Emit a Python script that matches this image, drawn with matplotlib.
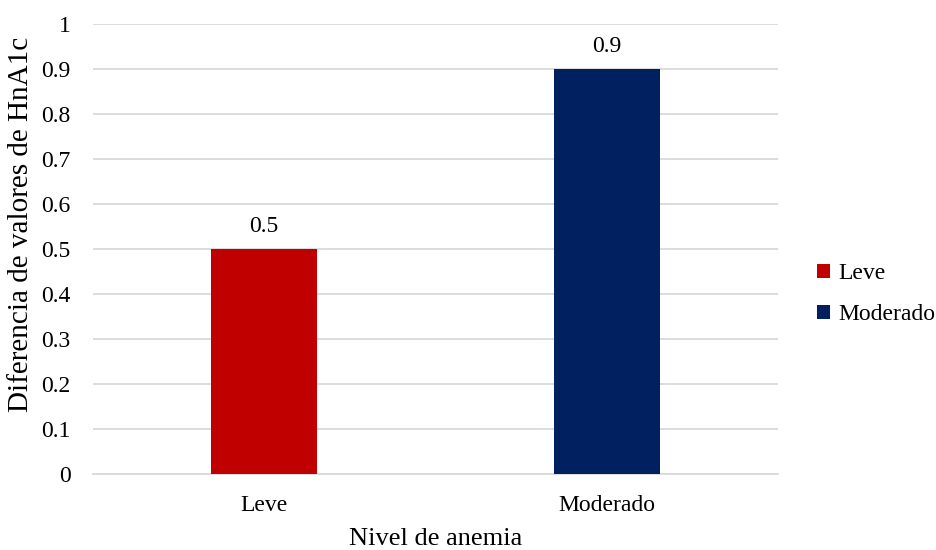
import numpy as np
import matplotlib.pyplot as plt

plt.rcParams['font.family'] = ['Liberation Serif', 'DejaVu Serif']

categories = ['Leve', 'Moderado']
values = [0.5, 0.9]
colors = ['#C00000', '#002060']
yticks = [0, 0.1, 0.2, 0.3, 0.4, 0.5, 0.6, 0.7, 0.8, 0.9, 1]
ytick_labels = ['0', '0.1', '0.2', '0.3', '0.4', '0.5', '0.6', '0.7', '0.8', '0.9', '1']

fig = plt.figure(figsize=(9.36, 5.5), dpi=100)
ax = fig.add_axes([93 / 936, 1 - 474 / 550, (778 - 93) / 936, (474 - 24) / 550])

x = np.arange(len(categories))
for i, (cat, val, col) in enumerate(zip(categories, values, colors)):
    ax.bar(x[i], val, width=0.31, color=col, label=cat, zorder=3)
    ax.text(x[i], val + 0.027, f'{val:g}', ha='center', va='bottom', fontsize=17)

ax.set_xlim(-0.5, len(categories) - 0.5)
ax.set_ylim(0, 1)
ax.set_yticks(yticks)
ax.set_yticklabels(ytick_labels, fontsize=17)
ax.set_xticks(x)
ax.set_xticklabels(categories, fontsize=17)
ax.tick_params(axis='x', length=0, pad=15)
ax.tick_params(axis='y', length=0, pad=16)

ax.yaxis.grid(True, color='#D9D9D9', linewidth=1.3, zorder=0)
for s in ['top', 'right', 'left']:
    ax.spines[s].set_visible(False)
ax.spines['bottom'].set_color('#D9D9D9')
ax.spines['bottom'].set_linewidth(1.3)

ax.set_xlabel('Nivel de anemia', fontsize=19, labelpad=9)
# y title sits a little above the plot centre
fig.text(21 / 936, 1 - 224 / 550, 'Diferencia de valores de HnA1c', rotation=90,
         ha='center', va='center', fontsize=21)

ax.legend(loc='center left', bbox_to_anchor=(1.026, 0.40), frameon=False,
          fontsize=17, handlelength=0.55, handleheight=0.55, handletextpad=0.35,
          labelspacing=0.85)

fig.savefig('out.png', dpi=100)
